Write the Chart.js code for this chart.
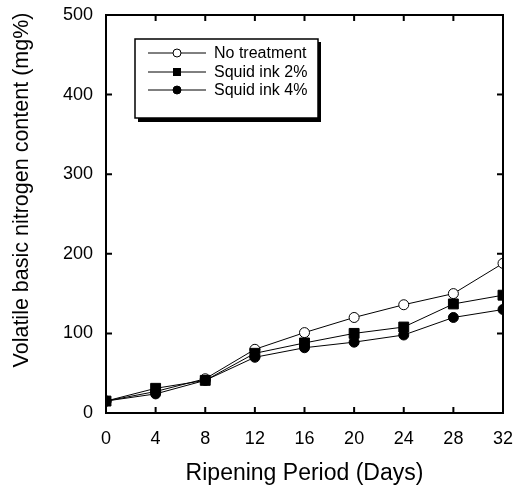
<!DOCTYPE html>
<html>
<head>
<meta charset="utf-8">
<script src="https://cdn.jsdelivr.net/npm/chart.js@4"></script>
<style>
  body { margin: 0; background: #fff; }
  canvas { display: block; }
</style>
</head>
<body>
<canvas id="vbnChart" width="516" height="486"></canvas>
<script>
// Ripening days and volatile basic nitrogen (mg%)
const days = [0, 4, 8, 12, 16, 20, 24, 28, 32];
const noTreatment = [15, 27, 43, 80, 101, 120, 136, 150, 188];
const squidInk2 = [15, 31, 41, 75, 88, 100, 108, 137, 148];
const squidInk4 = [15, 24, 41, 70, 82, 89, 98, 120, 130];
const seriesLabels = ['No treatment', 'Squid ink 2%', 'Squid ink 4%'];
const xTicks = [0, 4, 8, 12, 16, 20, 24, 28, 32];
const yTicks = [0, 100, 200, 300, 400, 500];

const FONT = "'Liberation Sans', Arial, sans-serif";

function toPoints(values) {
    return days.map((d, i) => ({ x: d, y: values[i] }));
}

// markers for the legend box
function drawMarker(ctx, style, x, y, r) {
    ctx.beginPath();
    if (style === 'rect') {
        ctx.rect(x - r, y - r, 2 * r, 2 * r);
        ctx.fillStyle = '#000';
        ctx.fill();
    } else {
        ctx.arc(x, y, r, 0, Math.PI * 2);
        ctx.fillStyle = style === 'open' ? '#fff' : '#000';
        ctx.fill();
        ctx.lineWidth = 1;
        ctx.strokeStyle = '#000';
        ctx.stroke();
    }
}

// frame, inward ticks, axis titles and the boxed legend
const framePlugin = {
    id: 'frame',
    afterDraw(chart) {
        const ctx = chart.ctx;
        const area = chart.chartArea;
        const xs = chart.scales.x;
        const ys = chart.scales.y;
        ctx.save();
        ctx.strokeStyle = '#000';
        ctx.lineWidth = 2;
        ctx.strokeRect(area.left, area.top, area.right - area.left, area.bottom - area.top);

        ctx.beginPath();
        xTicks.forEach(v => {
            const px = xs.getPixelForValue(v);
            ctx.moveTo(px, area.bottom);
            ctx.lineTo(px, area.bottom - 6);
            ctx.moveTo(px, area.top);
            ctx.lineTo(px, area.top + 6);
        });
        yTicks.forEach(v => {
            const py = ys.getPixelForValue(v);
            ctx.moveTo(area.left, py);
            ctx.lineTo(area.left + 6, py);
            ctx.moveTo(area.right, py);
            ctx.lineTo(area.right - 6, py);
        });
        ctx.stroke();

        // axis titles
        ctx.fillStyle = '#000';
        ctx.font = '23px ' + FONT;
        ctx.textAlign = 'center';
        ctx.textBaseline = 'alphabetic';
        ctx.fillText('Ripening Period (Days)', (area.left + area.right) / 2, 480);

        ctx.save();
        ctx.translate(22, 190);
        ctx.rotate(-Math.PI / 2);
        ctx.font = '21.5px ' + FONT;
        ctx.textBaseline = 'middle';
        ctx.fillText('Volatile basic nitrogen content (mg%)', 0, 0);
        ctx.restore();

        // legend box with drop shadow
        const bx = 135, by = 39, bw = 183, bh = 79;
        ctx.fillStyle = '#000';
        ctx.fillRect(bx + 3, by + 3, bw, bh + 1);
        ctx.fillStyle = '#fff';
        ctx.fillRect(bx, by, bw, bh);
        ctx.lineWidth = 1.5;
        ctx.strokeRect(bx, by, bw, bh);

        const styles = ['open', 'rect', 'filled'];
        const rowY = [53, 72, 90];
        ctx.font = '16px ' + FONT;
        ctx.textAlign = 'left';
        ctx.textBaseline = 'middle';
        seriesLabels.forEach((lab, i) => {
            ctx.beginPath();
            ctx.lineWidth = 1;
            ctx.strokeStyle = '#000';
            ctx.moveTo(148, rowY[i]);
            ctx.lineTo(206, rowY[i]);
            ctx.stroke();
            drawMarker(ctx, styles[i], 177, rowY[i], 4);
            ctx.fillStyle = '#000';
            ctx.fillText(lab, 214, rowY[i] + 1);
        });
        ctx.restore();
    }
};

// fixed axis sizes, no extra room for overhanging end labels
function fitX(s) {
    s.height = 73;
    s.paddingLeft = 0;
    s.paddingRight = 0;
}
function fitY(s) {
    s.width = 106;
    s.paddingTop = 0;
    s.paddingBottom = 0;
}

const ctx = document.getElementById('vbnChart').getContext('2d');
new Chart(ctx, {
    type: 'line',
    data: {
        datasets: [{
            label: seriesLabels[0],
            data: toPoints(noTreatment),
            borderColor: '#000',
            borderWidth: 1,
            pointStyle: 'circle',
            pointRadius: 5,
            pointBackgroundColor: '#fff',
            pointBorderColor: '#000',
            pointBorderWidth: 1,
            order: 2
        }, {
            label: seriesLabels[1],
            data: toPoints(squidInk2),
            borderColor: '#000',
            borderWidth: 1,
            pointStyle: 'rect',
            pointRadius: 7,
            pointBackgroundColor: '#000',
            pointBorderColor: '#000',
            pointBorderWidth: 1,
            order: 0
        }, {
            label: seriesLabels[2],
            data: toPoints(squidInk4),
            borderColor: '#000',
            borderWidth: 1,
            pointStyle: 'circle',
            pointRadius: 5,
            pointBackgroundColor: '#000',
            pointBorderColor: '#000',
            pointBorderWidth: 1,
            order: 1
        }]
    },
    options: {
        responsive: false,
        animation: false,
        layout: { padding: { top: 15, right: 13, left: 0, bottom: 0 } },
        plugins: {
            legend: { display: false },
            tooltip: { enabled: false }
        },
        scales: {
            x: {
                type: 'linear',
                min: 0,
                max: 32,
                afterFit: fitX,
                afterBuildTicks: s => { s.ticks = xTicks.map(v => ({ value: v })); },
                grid: { display: false, drawTicks: false },
                border: { display: false },
                ticks: {
                    padding: 15,
                    color: '#000',
                    font: { family: FONT, size: 18 },
                    maxRotation: 0
                }
            },
            y: {
                min: 0,
                max: 500,
                afterFit: fitY,
                afterBuildTicks: s => { s.ticks = yTicks.map(v => ({ value: v })); },
                grid: { display: false, drawTicks: false },
                border: { display: false },
                ticks: {
                    padding: 13,
                    color: '#000',
                    font: { family: FONT, size: 18 }
                }
            }
        }
    },
    plugins: [framePlugin]
});
</script>
</body>
</html>
